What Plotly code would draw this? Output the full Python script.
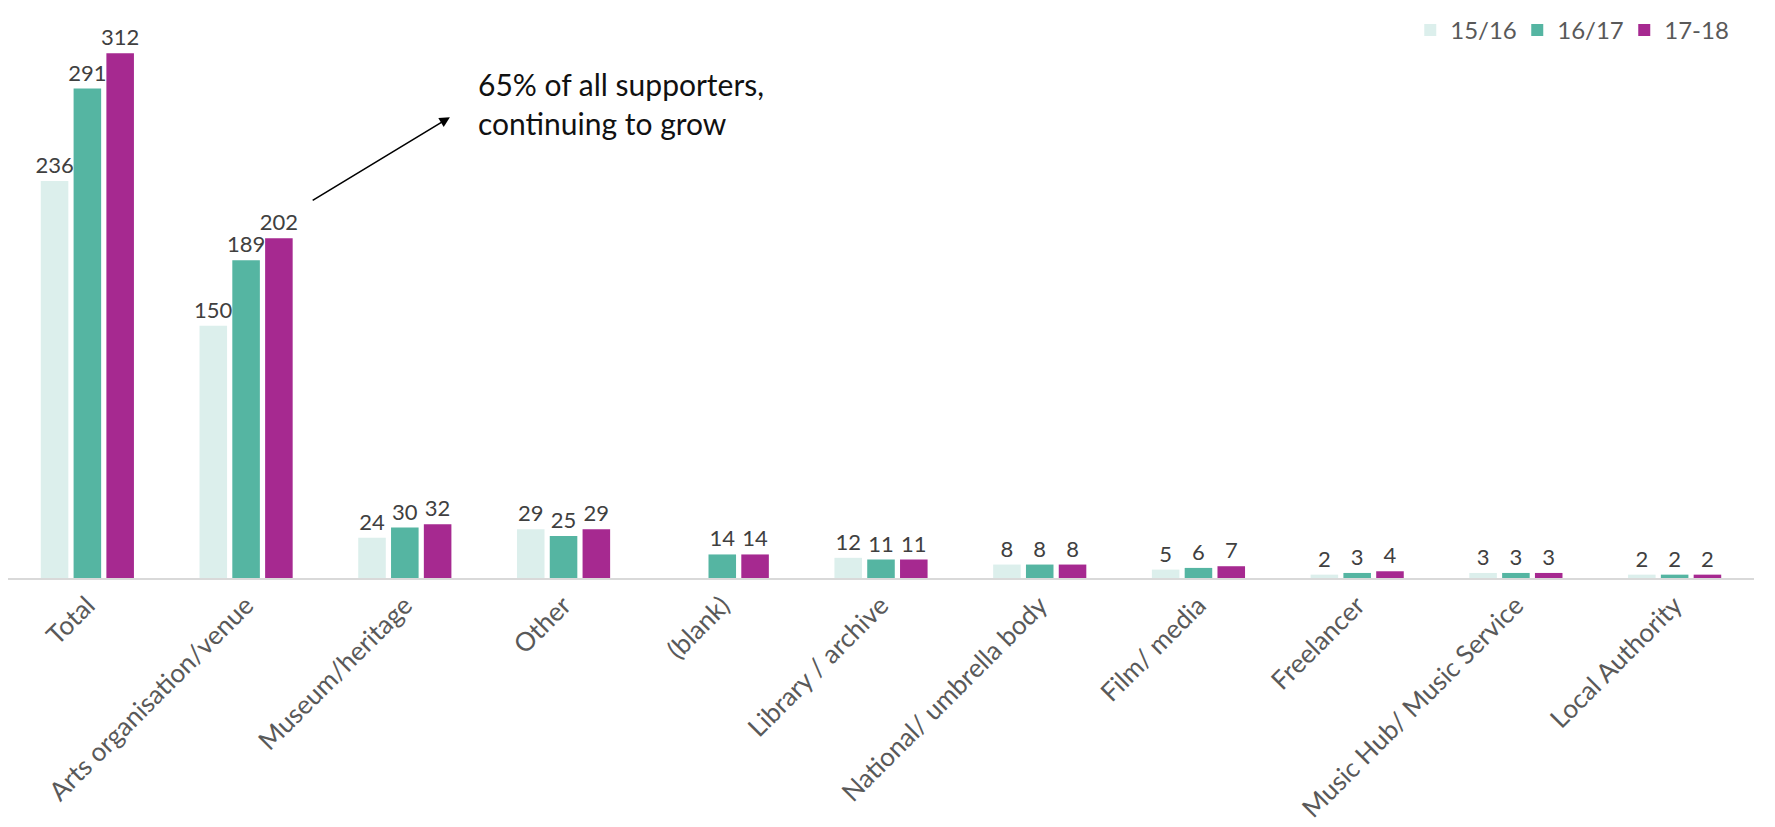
import plotly.graph_objects as go

categories = ["Total", "Arts organisation/venue", "Museum/heritage", "Other", "(blank)",
              "Library / archive", "National/ umbrella body", "Film/ media", "Freelancer",
              "Music Hub/ Music Service", "Local Authority"]
series_names = ["15/16", "16/17", "17-18"]
v_1516 = [236, 150, 24, 29, None, 12, 8, 5, 2, 3, 2]
v_1617 = [291, 189, 30, 25, 14, 11, 8, 6, 3, 3, 2]
v_1718 = [312, 202, 32, 29, 14, 11, 8, 7, 4, 3, 2]
colors = ["#DCEFEC", "#55B5A2", "#A62990"]

FONT = "Lato"
fig = go.Figure()
for name, vals, col in zip(series_names, [v_1516, v_1617, v_1718], colors):
    fig.add_trace(go.Bar(
        x=categories, y=vals, name=name, marker=dict(color=col, line=dict(width=0)),
        text=[("" if v is None else str(v)) for v in vals], textposition="outside",
        constraintext="none",
        textfont=dict(family=FONT, size=22, color="#404040"), cliponaxis=False,
    ))

fig.add_annotation(x=2.284, y=274, ax=1.41, ay=224, xref="x", yref="y", axref="x", ayref="y",
                   showarrow=True, arrowhead=2, arrowsize=1.3, arrowwidth=1.6, arrowcolor="#000000",
                   text="")
fig.add_annotation(x=2.45, y=282, xref="x", yref="y", xanchor="left", yanchor="middle",
                   showarrow=False, align="left",
                   text="65% of all supporters,<br>continuing to grow",
                   font=dict(family=FONT, size=30, color="#111111"))

fig.update_layout(
    width=1775, height=827, barmode="group", bargap=0.38, bargroupgap=0.16,
    margin=dict(l=0, r=29, t=15, b=257, autoexpand=False),
    paper_bgcolor="white", plot_bgcolor="white",
    font=dict(family=FONT, color="#595959"),
    legend=dict(orientation="h", xref="container", x=0.790, xanchor="left",
                yref="container", y=1.0, yanchor="top",
                font=dict(family=FONT, size=24, color="#595959"), entrywidth=62,
                traceorder="normal", itemwidth=30),
    xaxis=dict(tickangle=-45, tickfont=dict(family=FONT, size=26, color="#595959"),
               automargin=False,
               showline=True, linecolor="#D9D9D9", linewidth=2, ticks="", showgrid=False),
    yaxis=dict(range=[0, 330], visible=False, showgrid=False, zeroline=False, automargin=False),
)
fig.write_html("out.html")
